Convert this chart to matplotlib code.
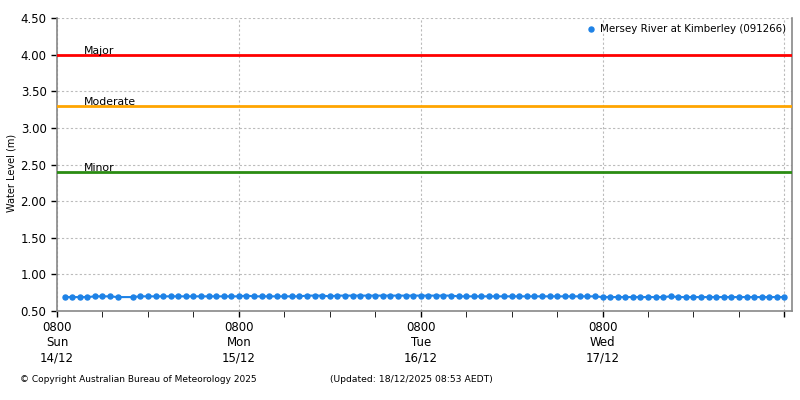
import numpy as np
import pandas as pd
import matplotlib
matplotlib.use('Agg')
import matplotlib.pyplot as plt
import matplotlib.dates as mdates
import matplotlib.transforms as mtrans
from matplotlib.ticker import FixedLocator, FormatStrFormatter

plt.rcParams['font.family'] = 'DejaVu Sans'

# hourly readings from 0900 14/12 to 0800 18/12, 1700 14/12 missing
times = pd.date_range('2025-12-14 09:00', '2025-12-18 08:00', freq='h')
times = times.drop(pd.Timestamp('2025-12-14 17:00'))
level = [0.69, 0.69, 0.69, 0.69, 0.70, 0.70, 0.70, 0.69,
         0.69, 0.70, 0.70, 0.70, 0.70, 0.70, 0.70, 0.70, 0.70, 0.70, 0.70, 0.70, 0.70, 0.70, 0.70,
         0.71, 0.70, 0.70, 0.70, 0.70, 0.70, 0.70, 0.70, 0.71, 0.71, 0.71, 0.70,
         0.71, 0.71, 0.71, 0.71, 0.71, 0.71, 0.71, 0.71, 0.71, 0.71, 0.71, 0.71, 0.71, 0.71, 0.71, 0.71,
         0.70, 0.70, 0.70, 0.70, 0.70, 0.70, 0.70, 0.70, 0.70, 0.70, 0.70, 0.70, 0.70, 0.70, 0.70, 0.70,
         0.70, 0.70, 0.70,
         0.69, 0.69, 0.69, 0.69, 0.69, 0.69, 0.69, 0.69, 0.69, 0.70,
         0.69, 0.69, 0.69, 0.69, 0.69, 0.69, 0.69, 0.69, 0.69, 0.69, 0.69, 0.69, 0.69, 0.69, 0.69]

flood_names = ['Major', 'Moderate', 'Minor']
flood_levels = [4.00, 3.30, 2.40]
flood_colors = ['#ff0000', '#ffa500', '#2a8c12']

day_labels = ['0800\nSun\n14/12', '0800\nMon\n15/12', '0800\nTue\n16/12', '0800\nWed\n17/12', '']
day_ticks = pd.date_range('2025-12-14 08:00', periods=5, freq='D')
six_hourly = pd.date_range('2025-12-14 08:00', '2025-12-18 08:00', freq='6h')

x = mdates.date2num(times.to_pydatetime())
xmaj = mdates.date2num(day_ticks.to_pydatetime())
xmin = [v for v in mdates.date2num(six_hourly.to_pydatetime()) if v not in xmaj]

fig = plt.figure(figsize=(8, 4), dpi=100)
ax = fig.add_axes([57/800, 1-311/400, (792-57)/800, (311-18)/400])

ax.plot(x, level, color='#1e82e6', lw=1.5, marker='o', ms=3.6, zorder=4,
        label='Mersey River at Kimberley (091266)')

tr = mtrans.blended_transform_factory(ax.transAxes, ax.transData)
for name, lev, c in zip(flood_names, flood_levels, flood_colors):
    ax.axhline(lev, color=c, lw=2, zorder=3)
    ax.text(0.037, lev + 0.01, name, transform=tr, fontsize=7.8, va='baseline', ha='left', zorder=5)

ax.set_xlim(mdates.date2num(pd.Timestamp('2025-12-14 08:00').to_pydatetime()),
            mdates.date2num(pd.Timestamp('2025-12-18 09:00').to_pydatetime()))
ax.set_ylim(0.5, 4.5)
ax.set_yticks(np.arange(0.5, 4.51, 0.5))
ax.yaxis.set_major_formatter(FormatStrFormatter('%.2f'))
ax.xaxis.set_major_locator(FixedLocator(xmaj))
ax.set_xticklabels(day_labels)
ax.xaxis.set_minor_locator(FixedLocator(xmin))
ax.tick_params(axis='both', labelsize=8.5, length=4, width=1, color='black')
ax.tick_params(axis='x', which='minor', length=4)
ax.xaxis.grid(True, which='major', color='#bbbbbb', ls=(0, (2, 2)), lw=0.8)
ax.yaxis.grid(True, which='major', color='#bbbbbb', ls=(0, (2, 2)), lw=0.8)
ax.set_ylabel('Water Level (m)', fontsize=7)
ax.yaxis.set_label_coords(-(57-17)/735, 0.47)

for s in ['left', 'bottom', 'right']:
    ax.spines[s].set_color('#888888')
    ax.spines[s].set_linewidth(1.2)
ax.spines['top'].set_visible(False)

leg = ax.legend(loc='upper right', frameon=False, fontsize=7.4, handlelength=0.6,
                handletextpad=0.5, borderaxespad=0.2)
for h in leg.legend_handles:
    h.set_linestyle('None')

fig.text(20/800, 1-380/400, '\u00a9 Copyright Australian Bureau of Meteorology 2025', fontsize=6.5, va='center')
fig.text(330/800, 1-380/400, '(Updated: 18/12/2025 08:53 AEDT)', fontsize=6.7, va='center')

fig.savefig('out.png', dpi=100)
